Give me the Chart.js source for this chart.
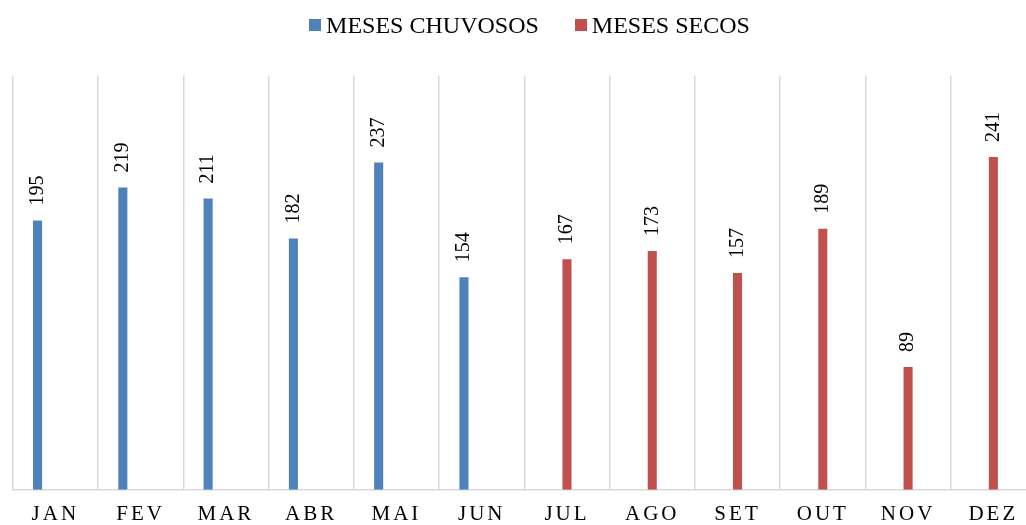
<!DOCTYPE html>
<html>
<head>
<meta charset="utf-8">
<script src="https://cdn.jsdelivr.net/npm/chart.js@4"></script>
<style>
  html, body { margin: 0; padding: 0; background: #fff; overflow: hidden; }
  #wrap { position: relative; width: 1026px; height: 525px; overflow: hidden; }
  #chart { position: absolute; left: 0; top: 0; }
  #legend {
    position: absolute; left: 0; top: 13px; width: 1059px; text-align: center;
    font-family: "Liberation Serif", "Times New Roman", serif; font-size: 24px; line-height: 24px;
    color: #000; white-space: nowrap;
  }
  #legend .item { display: inline-block; margin: 0 18px; }
  #legend .box { display: inline-block; width: 12px; height: 12.5px; margin: 0 5px 1.6px 0; vertical-align: baseline; }
</style>
</head>
<body>
<div id="wrap">
  <canvas id="chart" width="1060" height="539"></canvas>
  <div id="legend"></div>
</div>
<script>
const months = ["JAN", "FEV", "MAR", "ABR", "MAI", "JUN", "JUL", "AGO", "SET", "OUT", "NOV", "DEZ"];
const chuvosos = [195, 219, 211, 182, 237, 154, null, null, null, null, null, null];
const secos = [null, null, null, null, null, null, 167, 173, 157, 189, 89, 241];
const seriesNames = ["MESES CHUVOSOS", "MESES SECOS"];
const colors = ["#4f81bd", "#c0504d"];

// legend as html
const legend = document.getElementById("legend");
seriesNames.forEach((name, i) => {
  const item = document.createElement("span");
  item.className = "item";
  const box = document.createElement("span");
  box.className = "box";
  box.style.background = colors[i];
  item.appendChild(box);
  item.appendChild(document.createTextNode(name));
  legend.appendChild(item);
});

const serif = "'Liberation Serif', 'Times New Roman', serif";

// letter spacing for the month labels
const spacing = {
  id: "spacing",
  beforeDraw(chart) { chart.ctx.letterSpacing = "3px"; },
  beforeDatasetsDraw(chart) { chart.ctx.letterSpacing = "0px"; }
};

// vertical value labels above the bars
const valueLabels = {
  id: "valueLabels",
  afterDatasetsDraw(chart) {
    const ctx = chart.ctx;
    ctx.save();
    ctx.font = "20px " + serif;
    ctx.fillStyle = "#000";
    ctx.textAlign = "left";
    ctx.textBaseline = "middle";
    [0, 1].forEach(di => {
      const meta = chart.getDatasetMeta(di);
      meta.data.forEach((bar, i) => {
        const v = chart.data.datasets[di].data[i];
        if (v == null) return;
        ctx.save();
        ctx.translate(bar.x, bar.y - 15);
        ctx.rotate(-Math.PI / 2);
        ctx.fillText(String(v), 0, 0);
        ctx.restore();
      });
    });
    ctx.restore();
  }
};

new Chart(document.getElementById("chart"), {
  type: "bar",
  data: {
    labels: months,
    datasets: [
      { label: seriesNames[0], data: chuvosos, backgroundColor: colors[0] },
      { label: seriesNames[1], data: secos, backgroundColor: colors[1] },
      { label: "", data: [], backgroundColor: "transparent" }
    ]
  },
  options: {
    responsive: false,
    devicePixelRatio: 1,
    animation: false,
    categoryPercentage: 0.625,
    barPercentage: 0.51,
    layout: { padding: { left: 12.7, right: 24, top: 75.6, bottom: 0 } },
    plugins: { legend: { display: false }, tooltip: { enabled: false } },
    scales: {
      x: {
        grid: { color: "#d9d9d9", lineWidth: 1.5, drawTicks: false, offset: true },
        border: { color: "#d9d9d9", width: 1.5 },
        ticks: { color: "#000", padding: 12, font: { family: serif, size: 21 } }
      },
      y: { display: false, min: 0, max: 300 }
    }
  },
  plugins: [spacing, valueLabels]
});
</script>
</body>
</html>
